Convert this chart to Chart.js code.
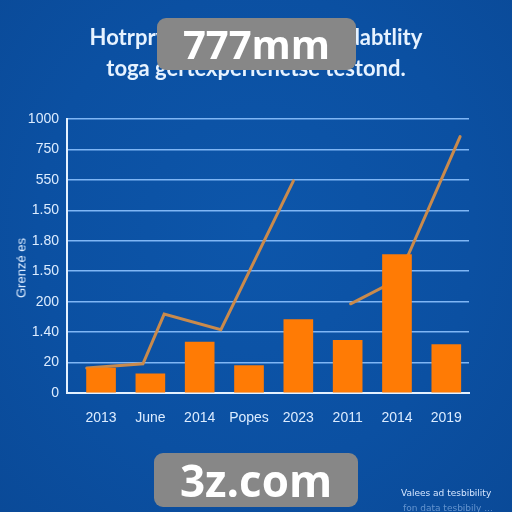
<!DOCTYPE html>
<html>
<head>
<meta charset="utf-8">
<script src="https://cdn.jsdelivr.net/npm/chart.js@4/dist/chart.umd.min.js"></script>
<style>
  html, body { margin:0; padding:0; }
  body { width:512px; height:512px; overflow:hidden; position:relative;
         background: radial-gradient(ellipse at 50% 45%, #0d56aa 0%, #0b50a2 60%, #0a4a98 100%);
         font-family: "Lato", "Open Sans", sans-serif; }
  #wrap { position:absolute; left:0; top:0; width:512px; height:512px; }
  .title { position:absolute; left:0; width:512px; text-align:center; color:#e6f2ff;
           font-weight:700; font-size:22px; line-height:24px; }
  .wm { position:absolute; background:#878787; border-radius:9px; color:#fff;
        font-family:"Open Sans", sans-serif; font-weight:700; text-align:center; }
  #ytitle { position:absolute; left:21px; top:268px; transform:translate(-50%,-50%) rotate(-90deg);
            color:#dcecff; font-family:"Liberation Sans", sans-serif; font-size:13px; white-space:nowrap; }
  #note { position:absolute; left:401px; top:488px; color:#d5e6ff; font-family:"DejaVu Sans", sans-serif;
          font-size:9px; white-space:nowrap; }
  #note2 { position:absolute; left:403px; top:503px; color:#9fc3f0; font-family:"DejaVu Sans", sans-serif;
          font-size:9px; white-space:nowrap; opacity:0.6; }
</style>
</head>
<body>
<div id="wrap"><canvas id="c" width="512" height="512"></canvas></div>
<div class="title" style="top:25px;">Hotrpry chart of tiered readabtlity</div>
<div class="title" style="top:56px;">toga gertexperienctse testond.</div>
<div class="wm" style="left:157px; top:18px; width:199px; height:52px; font-size:40px; line-height:52px;">777mm</div>
<div class="wm" style="left:154px; top:453px; width:204px; height:54px; font-size:44px; line-height:54px;">3z.com</div>
<div id="ytitle">Grenzé es</div>
<div id="note">Valees ad tesbibility</div>
<div id="note2">fon data tesbibily ...</div>
<script>
const categories = ["2013", "June", "2014", "Popes", "2023", "2011", "2014", "2019"];
const yTickLabels = ["0", "20", "1.40", "200", "1.50", "1.80", "1.50", "550", "750", "1000"];
const barValues = [0.82, 0.63, 1.67, 0.90, 2.41, 1.73, 4.55, 1.59];
const lineX = [-0.29, 0.85, 1.28, 2.43, 3.90, 4.5, 5.06, 5.71, 6.23, 7.28];
const lineY = [0.82, 0.96, 2.59, 2.08, 6.97, null, 2.93, 3.47, 4.54, 8.42];

const barData = categories.map((c, i) => ({ x: i, y: barValues[i] }));
const lineData = lineX.map((x, i) => ({ x: x, y: lineY[i] }));

new Chart(document.getElementById('c'), {
  data: {
    datasets: [
      { type: 'bar', data: barData, backgroundColor: '#ff7b05', borderWidth: 0,
        barThickness: 29, order: 0 },
      { type: 'line', data: lineData, borderColor: '#c98a4c', borderWidth: 3,
        pointRadius: 0, tension: 0, spanGaps: false, order: 1,
        borderCapStyle: 'round', borderJoinStyle: 'miter' }
    ]
  },
  options: {
    responsive: false,
    animation: false,
    devicePixelRatio: 1,
    layout: { padding: { left: 0, right: 43, top: 119, bottom: 0 } },
    plugins: { legend: { display: false }, tooltip: { enabled: false }, title: { display: false } },
    scales: {
      x: {
        type: 'linear',
        offset: false,
        min: -0.69, max: 7.46,
        afterBuildTicks: s => { s.ticks = categories.map((c, i) => ({ value: i })); },
        afterFit: s => { s.height = 119; },
        ticks: {
          autoSkip: false, maxRotation: 0, padding: 17,
          color: '#dcecff', font: { family: 'Liberation Sans', size: 14 },
          callback: (v) => categories[Math.round(v)] ?? ''
        },
        grid: { display: false, drawTicks: false },
        border: { display: true, color: '#e4f1ff', width: 2 }
      },
      y: {
        type: 'linear',
        min: 0, max: 9,
        afterBuildTicks: s => { s.ticks = yTickLabels.map((t, i) => ({ value: i })); },
        afterFit: s => { s.width = 67; },
        ticks: {
          padding: 8, color: '#dcecff', font: { family: 'Liberation Sans', size: 14 },
          callback: (v) => yTickLabels[Math.round(v)] ?? ''
        },
        grid: { color: '#7fb6f5', lineWidth: 1.5, drawTicks: false },
        border: { display: true, color: '#e4f1ff', width: 2 }
      }
    }
  }
});
</script>
</body>
</html>
